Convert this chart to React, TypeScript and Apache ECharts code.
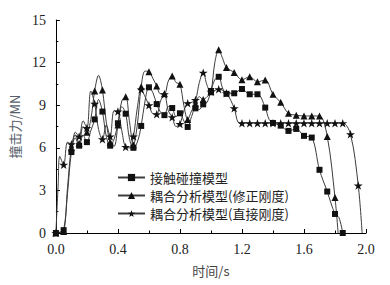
import React, { useEffect, useRef } from "react";
import * as echarts from "echarts";

// Series names (legend)
const seriesNames = ["接触碰撞模型", "耦合分析模型(修正刚度)", "耦合分析模型(直接刚度)"];

// x-axis ticks (time / s) and y-axis (force / MN)
const xTicks = [0, 0.4, 0.8, 1.2, 1.6, 2.0];
const yTicks = [0, 3, 6, 9, 12, 15];

// [time s, force MN]
const contactModel: number[][] = [
  [0, 0], [0.025, 0.05], [0.05, 0.2], [0.075, 2.8], [0.1, 5.7], [0.125, 6.7], [0.15, 6.15], [0.175, 6.9],
  [0.2, 6.4], [0.225, 7.2], [0.25, 8.0], [0.275, 9.4], [0.3, 8.55], [0.325, 6.8], [0.35, 6.15], [0.375, 6.6],
  [0.4, 7.73], [0.425, 8.9], [0.45, 8.4], [0.475, 6.6], [0.5, 6.0], [0.525, 6.4], [0.55, 7.54], [0.575, 9.3],
  [0.6, 10.26], [0.625, 9.9], [0.65, 9.08], [0.675, 8.5], [0.7, 8.3], [0.725, 8.9], [0.75, 8.8], [0.775, 8.2],
  [0.8, 8.43], [0.825, 7.9], [0.85, 7.47], [0.875, 8.2], [0.9, 8.78], [0.925, 8.7], [0.95, 9.06], [0.975, 9.2],
  [1.0, 10.0], [1.025, 10.8], [1.05, 11.0], [1.075, 10.2], [1.1, 9.8], [1.15, 9.84], [1.2, 10.14], [1.25, 9.77],
  [1.3, 9.77], [1.35, 8.83], [1.375, 8.0], [1.4, 7.75], [1.45, 7.56], [1.5, 7.19], [1.55, 7.33], [1.6, 6.84],
  [1.65, 6.72], [1.7, 4.45], [1.75, 2.92], [1.8, 1.34], [1.825, 1.1], [1.85, 0],
];

const coupledCorrected: number[][] = [
  [0, 0], [0.025, 0.05], [0.05, 0.1], [0.075, 3.2], [0.1, 6.0], [0.125, 6.9], [0.15, 6.3], [0.175, 7.5],
  [0.2, 7.1], [0.225, 8.0], [0.25, 10.0], [0.275, 11.1], [0.3, 10.07], [0.325, 7.8], [0.35, 6.4], [0.375, 6.1],
  [0.4, 7.6], [0.425, 9.3], [0.45, 9.6], [0.475, 7.8], [0.5, 6.2], [0.525, 7.6], [0.55, 10.3], [0.575, 11.4],
  [0.6, 11.36], [0.625, 10.9], [0.65, 10.35], [0.675, 9.8], [0.7, 9.8], [0.725, 10.7], [0.75, 11.05], [0.775, 10.6],
  [0.8, 10.47], [0.825, 9.0], [0.85, 8.0], [0.875, 8.6], [0.9, 9.1], [0.925, 9.6], [0.95, 9.4], [0.975, 9.6],
  [1.0, 9.95], [1.025, 12.0], [1.05, 12.9], [1.075, 12.3], [1.1, 11.66], [1.15, 11.3], [1.2, 10.8], [1.25, 11.0],
  [1.3, 10.65], [1.35, 10.77], [1.4, 9.77], [1.45, 9.2], [1.5, 8.43], [1.55, 8.3], [1.6, 8.24], [1.65, 8.24],
  [1.7, 8.24], [1.75, 6.8], [1.8, 2.5], [1.82, 0],
];

const coupledDirect: number[][] = [
  [0, 0], [0.015, 3.5], [0.025, 5.4], [0.05, 4.8], [0.075, 6.4], [0.1, 6.25], [0.125, 7.1], [0.15, 6.8],
  [0.175, 7.9], [0.2, 7.4], [0.225, 10.0], [0.25, 9.1], [0.275, 7.3], [0.3, 6.6], [0.325, 7.6], [0.35, 6.8],
  [0.375, 8.6], [0.4, 8.55], [0.425, 7.2], [0.45, 6.05], [0.475, 6.0], [0.5, 6.8], [0.525, 8.8], [0.55, 10.1],
  [0.575, 9.6], [0.6, 9.0], [0.625, 8.4], [0.65, 8.36], [0.675, 9.3], [0.7, 9.77], [0.725, 8.6], [0.75, 8.15],
  [0.775, 7.5], [0.8, 7.68], [0.825, 8.6], [0.85, 9.13], [0.875, 9.2], [0.9, 9.37], [0.925, 10.6], [0.95, 11.29],
  [0.975, 10.4], [1.0, 9.95], [1.05, 10.12], [1.1, 9.84], [1.15, 8.78], [1.175, 7.8], [1.2, 7.73], [1.25, 7.73],
  [1.3, 7.73], [1.35, 7.73], [1.4, 7.73], [1.45, 7.73], [1.5, 7.73], [1.55, 7.73], [1.6, 7.73], [1.65, 7.73],
  [1.7, 7.73], [1.75, 7.73], [1.8, 7.73], [1.85, 7.73], [1.9, 6.96], [1.95, 3.35], [1.975, 0],
];

const STAR =
  "path://M50,0 L61.8,35.3 L98.8,35.3 L68.9,57.1 L80.3,92.5 L50,70.6 L19.7,92.5 L31.1,57.1 L1.2,35.3 L38.2,35.3 Z";

const isMarker = (t: number) => Math.abs(t * 20 - Math.round(t * 20)) < 1e-6;

const toData = (pts: number[][]) =>
  pts.map(([t, v]) => (isMarker(t) ? [t, v] : { value: [t, v], symbol: "none" }));

const serif = "Liberation Serif";
const cjk = "Noto Sans CJK SC";

export default function App() {
  const ref = useRef<HTMLDivElement>(null);
  useEffect(() => {
    if (!ref.current) return;
    const chart = echarts.init(ref.current, undefined, { renderer: "svg" });
    const mk = (name: string, pts: number[][], symbol: string, size: number) => ({
      name,
      type: "line",
      data: toData(pts),
      smooth: 0.35,
      symbol,
      symbolSize: size,
      symbolKeepAspect: true,
      showSymbol: true,
      showAllSymbol: true,
      lineStyle: { color: "#3c3c3c", width: 1 },
      itemStyle: { color: "#111", borderWidth: 0 },
      emphasis: { disabled: true },
    });
    chart.setOption({
      animation: false,
      backgroundColor: "#ffffff",
      grid: { left: 54, right: 24, top: 20, bottom: 52, containLabel: false },
      legend: {
        orient: "vertical",
        left: 112,
        top: 166,
        itemWidth: 27,
        itemHeight: 9,
        itemGap: 5,
        textStyle: { fontFamily: cjk, fontSize: 13, color: "#222" },
        data: seriesNames,
      },
      xAxis: {
        type: "value",
        min: xTicks[0],
        max: xTicks[xTicks.length - 1],
        interval: 0.4,
        name: "时间/s",
        nameLocation: "middle",
        nameGap: 31,
        nameTextStyle: { fontFamily: cjk, fontSize: 13, color: "#444" },
        axisLine: { lineStyle: { color: "#000", width: 1 } },
        axisTick: { inside: true, length: 4, lineStyle: { color: "#000" } },
        minorTick: { show: true, splitNumber: 2, length: 2.5, lineStyle: { color: "#000" } },
        splitLine: { show: false },
        axisLabel: {
          fontFamily: serif,
          fontSize: 14,
          color: "#222",
          margin: 9,
          formatter: (v: number) => v.toFixed(1),
        },
      },
      yAxis: {
        type: "value",
        min: yTicks[0],
        max: yTicks[yTicks.length - 1],
        interval: 3,
        name: "撞击力/MN",
        nameLocation: "middle",
        nameGap: 28,
        nameRotate: 90,
        nameTextStyle: { fontFamily: cjk, fontSize: 13, color: "#56606b" },
        axisLine: { show: true, lineStyle: { color: "#000", width: 1 } },
        axisTick: { show: true, inside: true, length: 4, lineStyle: { color: "#000" } },
        minorTick: { show: true, splitNumber: 2, length: 2.5, lineStyle: { color: "#000" } },
        splitLine: { show: false },
        axisLabel: { fontFamily: serif, fontSize: 14, color: "#222", margin: 10 },
      },
      series: [
        mk(seriesNames[0], contactModel, "rect", 6),
        mk(seriesNames[1], coupledCorrected, "triangle", 7),
        mk(seriesNames[2], coupledDirect, STAR, 9),
      ],
    });
    return () => chart.dispose();
  }, []);
  return (
    <div
      ref={ref}
      style={{ position: "fixed", left: 0, top: 0, width: 390, height: 285, background: "#fff" }}
    />
  );
}
